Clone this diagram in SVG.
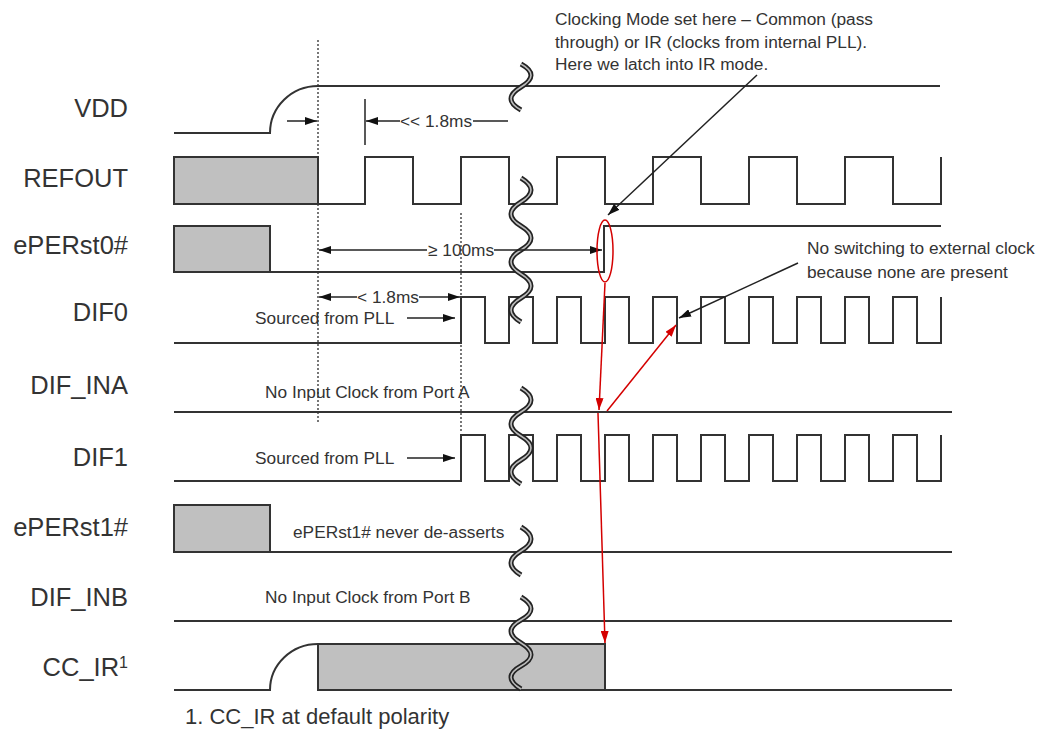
<svg xmlns="http://www.w3.org/2000/svg" width="1038" height="734" viewBox="0 0 1038 734">
<style>
.sig{fill:none;stroke:#333;stroke-width:2}
.gray{fill:#c0c0c0;stroke:#333;stroke-width:2}
.lbl{font-family:"Liberation Sans",Arial,sans-serif;font-size:25.5px;fill:#333;text-anchor:end}
.ann{font-family:"Liberation Sans",Arial,sans-serif;font-size:17.3px;fill:#333}
.foot{font-family:"Liberation Sans",Arial,sans-serif;font-size:22px;fill:#333}
.dot{fill:none;stroke:#555;stroke-width:1.6;stroke-dasharray:2 2}
.arr{fill:none;stroke:#222;stroke-width:1.5}
.red{fill:none;stroke:#d40000;stroke-width:1.5}
.brk1{fill:none;stroke:#222;stroke-width:5}
.brk2{fill:none;stroke:#bbb;stroke-width:1.6}
</style>
<defs>
<marker id="ah" viewBox="0 0 12 8" refX="12" refY="4" markerWidth="12" markerHeight="8" markerUnits="userSpaceOnUse" orient="auto"><path d="M0,0 L12,4 L0,8 z" fill="#111"/></marker>
<marker id="ahr" viewBox="0 0 12 8" refX="12" refY="4" markerWidth="12" markerHeight="8" markerUnits="userSpaceOnUse" orient="auto"><path d="M0,0 L12,4 L0,8 z" fill="#d40000"/></marker>
<path id="b1" d="M521,64 q20,11 0,23 t0,23"/>
<path id="b2" d="M521,178 q20,12 0,24 t0,24 t0,24 t0,24 t0,24 t0,24"/>
<path id="b3" d="M521,388 q20,12 0,24 t0,24 t0,24 t0,24"/>
<path id="b4" d="M521,527 q20,12 0,24 t0,24"/>
<path id="b5" d="M521,597 q20,12 0,23 t0,23 t0,23 t0,23"/>
</defs>
<rect width="1038" height="734" fill="#fff"/>

<g id="labels">
<text class="lbl" x="128" y="117">VDD</text>
<text class="lbl" x="128" y="187">REFOUT</text>
<text class="lbl" x="128" y="254">ePERst0#</text>
<text class="lbl" x="128" y="321">DIF0</text>
<text class="lbl" x="128" y="394">DIF_INA</text>
<text class="lbl" x="128" y="466">DIF1</text>
<text class="lbl" x="128" y="536">ePERst1#</text>
<text class="lbl" x="128" y="606">DIF_INB</text>
<text class="lbl" x="128" y="676">CC_IR<tspan font-size="16" dy="-8">1</tspan></text>
</g>

<g id="guides">
<line class="dot" x1="318" y1="40" x2="318" y2="422"/>
<line class="dot" x1="461" y1="213" x2="461" y2="432"/>
</g>

<g id="sig-vdd"><path class="sig" d="M174,133 H270 A48,47 0 0 1 318,86 H940"/></g>
<g id="sig-refout">
<rect class="gray" x="174" y="157" width="144" height="47"/>
<path class="sig" d="M318,204 H365 V157 H413 V204 H461 V157 H509 V204 H557 V157 H605 V204 H653 V157 H701 V204 H749 V157 H797 V204 H845 V157 H893 V204 H941 V157"/>
</g>
<g id="sig-eperst0">
<rect class="gray" x="174" y="226" width="96" height="46"/>
<path class="sig" d="M174,272 H604 V226 H941"/>
</g>
<g id="sig-dif0"><path class="sig" d="M174,343 H461 V297 H485 V343 H509 V297 H533 V343 H557 V297 H581 V343 H605 V297 H629 V343 H653 V297 H677 V343 H701 V297 H725 V343 H749 V297 H773 V343 H797 V297 H821 V343 H845 V297 H869 V343 H893 V297 H917 V343 H941 V297"/></g>
<g id="sig-difina"><path class="sig" d="M174,412 H952"/></g>
<g id="sig-dif1"><path class="sig" d="M174,481 H461 V435 H485 V481 H509 V435 H533 V481 H557 V435 H581 V481 H605 V435 H629 V481 H653 V435 H677 V481 H701 V435 H725 V481 H749 V435 H773 V481 H797 V435 H821 V481 H845 V435 H869 V481 H893 V435 H917 V481 H941 V435"/></g>
<g id="sig-eperst1">
<rect class="gray" x="174" y="505" width="96" height="47"/>
<path class="sig" d="M174,552 H952"/>
</g>
<g id="sig-difinb"><path class="sig" d="M174,621 H952"/></g>
<g id="sig-ccir">
<path class="sig" d="M174,690 H270 A48,46 0 0 1 318,644"/>
<rect class="gray" x="318" y="644" width="287" height="46"/>
<path class="sig" d="M605,690 H952"/>
</g>

<g id="breaks">
<use href="#b1" class="brk1"/><use href="#b1" class="brk2"/>
<use href="#b2" class="brk1"/><use href="#b2" class="brk2"/>
<use href="#b3" class="brk1"/><use href="#b3" class="brk2"/>
<use href="#b4" class="brk1"/><use href="#b4" class="brk2"/>
<use href="#b5" class="brk1"/><use href="#b5" class="brk2"/>
</g>

<g id="connectors">
<line class="arr" x1="287" y1="121" x2="317" y2="121" marker-end="url(#ah)"/>
<line class="arr" x1="365" y1="99" x2="365" y2="145"/>
<line class="arr" x1="400" y1="121" x2="366" y2="121" marker-end="url(#ah)"/>
<line class="arr" x1="473" y1="121" x2="508" y2="121"/>
<line class="arr" x1="427" y1="250" x2="319" y2="250" marker-end="url(#ah)"/>
<line class="arr" x1="494" y1="250" x2="602" y2="250" marker-end="url(#ah)"/>
<line class="arr" x1="357" y1="297" x2="319" y2="297" marker-end="url(#ah)"/>
<line class="arr" x1="419" y1="297" x2="460" y2="297" marker-end="url(#ah)"/>
<line class="arr" x1="407" y1="318" x2="455" y2="318" marker-end="url(#ah)"/>
<line class="arr" x1="407" y1="458" x2="455" y2="458" marker-end="url(#ah)"/>
<line class="arr" x1="757" y1="75" x2="608" y2="215" marker-end="url(#ah)"/>
<line class="arr" x1="798" y1="263" x2="679" y2="318" marker-end="url(#ah)"/>
<ellipse class="red" cx="605" cy="251" rx="8" ry="31"/>
<line class="red" x1="605" y1="283" x2="599" y2="410" marker-end="url(#ahr)"/>
<line class="red" x1="598" y1="413" x2="605" y2="643" marker-end="url(#ahr)"/>
<line class="red" x1="607" y1="411" x2="676" y2="325" marker-end="url(#ahr)"/>
</g>

<g id="annotations">
<text class="ann" x="555" y="25">Clocking Mode set here – Common (pass</text>
<text class="ann" x="555" y="48">through) or IR (clocks from internal PLL).</text>
<text class="ann" x="555" y="70">Here we latch into IR mode.</text>
<text class="ann" x="400" y="127">&lt;&lt; 1.8ms</text>
<text class="ann" x="428" y="256">≥ 100ms</text>
<text class="ann" x="357" y="303">&lt; 1.8ms</text>
<text class="ann" x="255" y="324">Sourced from PLL</text>
<text class="ann" x="265" y="398">No Input Clock from Port A</text>
<text class="ann" x="255" y="464">Sourced from PLL</text>
<text class="ann" x="293" y="538">ePERst1# never de-asserts</text>
<text class="ann" x="265" y="603">No Input Clock from Port B</text>
<text class="ann" x="807" y="254">No switching to external clock</text>
<text class="ann" x="807" y="278">because none are present</text>
<text class="foot" x="185" y="724">1. CC_IR at default polarity</text>
</g>
</svg>
